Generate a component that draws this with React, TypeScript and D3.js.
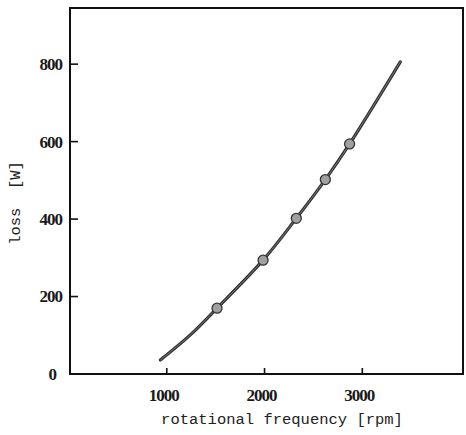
import React from "react";
import * as d3 from "d3";

const xTicks = [1000, 2000, 3000];
const yTicks = [0, 200, 400, 600, 800];
const curveRpm = [934, 1241, 1514, 1985, 2325, 2622, 2870, 3389];
const curveLoss = [36, 101, 170, 294, 402, 502, 594, 806];
const markerRpm = [1514, 1985, 2325, 2622, 2870];
const markerLoss = [170, 294, 402, 502, 594];
const xTitle = "rotational frequency [rpm]";
const yTitle = "loss\u00a0\u00a0[W]";

export default function App() {
  const W = 466, H = 435;
  const x = d3.scaleLinear().domain([0, 4030]).range([69, 463]);
  const y = d3.scaleLinear().domain([0, 945]).range([374, 8]);
  const pts: [number, number][] = curveRpm.map((r, i) => [r, curveLoss[i]]);
  const line = d3
    .line<[number, number]>()
    .x((d) => x(d[0]))
    .y((d) => y(d[1]))
    .curve(d3.curveCatmullRom.alpha(0.5));
  const tickFont = "'Liberation Serif', serif";
  const monoFont = "'Liberation Mono', 'DejaVu Sans Mono', monospace";
  return (
    <svg
      width={W}
      height={H}
      style={{ position: "absolute", left: 0, top: 0, background: "#fff" }}
    >
      {/* frame */}
      <rect
        x={x(0) + 1}
        y={y(945)}
        width={x(4030) - x(0) - 1}
        height={y(0) - y(945)}
        fill="none"
        stroke="#111"
        strokeWidth={2}
      />
      {/* y ticks */}
      {yTicks.map((t) => (
        <g key={"y" + t}>
          {t > 0 && (
            <line x1={x(0)} x2={x(0) + 9} y1={y(t)} y2={y(t)} stroke="#111" strokeWidth={1.6} />
          )}
          <text
            x={t === 0 ? 56 : 62}
            y={y(t)}
            dy="0.35em"
            textAnchor="end"
            fontFamily={tickFont}
            fontWeight="bold"
            fontSize={17}
            letterSpacing={-1}
            fill="#1a1a1a"
          >
            {t}
          </text>
        </g>
      ))}
      {/* x ticks */}
      {xTicks.map((t) => (
        <g key={"x" + t}>
          <line x1={x(t)} x2={x(t)} y1={y(0)} y2={y(0) - 6} stroke="#111" strokeWidth={1.6} />
          <text
            x={x(t) - 3}
            y={401}
            textAnchor="middle"
            fontFamily={tickFont}
            fontWeight="bold"
            fontSize={17}
            letterSpacing={-1}
            fill="#1a1a1a"
          >
            {t}
          </text>
        </g>
      ))}
      {/* axis titles */}
      <text
        x={282}
        y={424}
        textAnchor="middle"
        fontFamily={monoFont}
        fontSize={15.5}
        fill="#222"
      >
        {xTitle}
      </text>
      <text
        transform={`translate(20,203) rotate(-90)`}
        textAnchor="middle"
        fontFamily={monoFont}
        fontSize={15.5}
        fill="#222"
      >
        {yTitle}
      </text>
      {/* curve */}
      <path d={line(pts) || ""} fill="none" stroke="#333" strokeWidth={3.2} strokeLinecap="round" />
      <path d={line(pts) || ""} fill="none" stroke="#777" strokeWidth={1} strokeLinecap="round" />
      {/* markers */}
      {markerRpm.map((r, i) => (
        <circle
          key={"m" + i}
          cx={x(r)}
          cy={y(markerLoss[i])}
          r={5}
          fill="#a0a0a0"
          stroke="#333"
          strokeWidth={1.3}
        />
      ))}
    </svg>
  );
}
